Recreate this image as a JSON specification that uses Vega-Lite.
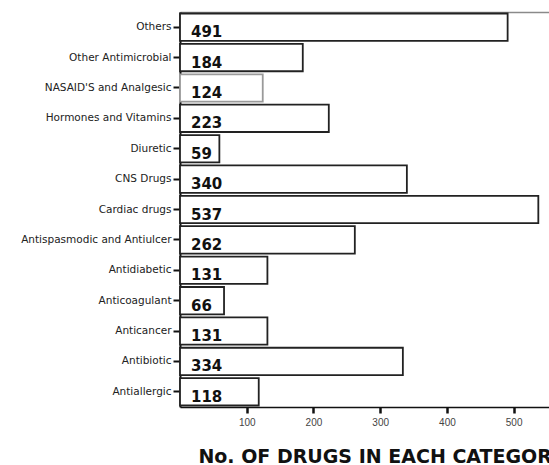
{
  "$schema": "https://vega.github.io/schema/vega-lite/v6.json",
  "width": 369,
  "height": 395,
  "autosize": {"type": "none"},
  "padding": {"left": 180, "top": 12, "right": 0, "bottom": 58},
  "background": "white",
  "data": {
    "values": [
      {"category": "Others", "count": 491},
      {"category": "Other Antimicrobial", "count": 184},
      {"category": "NASAID'S and Analgesic", "count": 124},
      {"category": "Hormones and Vitamins", "count": 223},
      {"category": "Diuretic", "count": 59},
      {"category": "CNS Drugs", "count": 340},
      {"category": "Cardiac drugs", "count": 537},
      {"category": "Antispasmodic and Antiulcer", "count": 262},
      {"category": "Antidiabetic", "count": 131},
      {"category": "Anticoagulant", "count": 66},
      {"category": "Anticancer", "count": 131},
      {"category": "Antibiotic", "count": 334},
      {"category": "Antiallergic", "count": 118}
    ]
  },
  "encoding": {
    "y": {
      "field": "category",
      "type": "nominal",
      "sort": null,
      "scale": {"paddingInner": 0.1, "paddingOuter": 0.05},
      "axis": {
        "title": null,
        "labelFont": "DejaVu Sans",
        "labelFontSize": 10.5,
        "labelColor": "#222",
        "labelLimit": 200,
        "labelPadding": 2,
        "tickSize": 7,
        "tickWidth": 2,
        "tickColor": "#111",
        "domainColor": "#111",
        "domainWidth": 2,
        "grid": false
      }
    }
  },
  "layer": [
    {
      "mark": {"type": "bar", "fill": "white", "strokeWidth": 1.8},
      "encoding": {
        "x": {
          "field": "count",
          "type": "quantitative",
          "scale": {"domain": [0, 553], "nice": false},
          "axis": {
            "orient": "bottom",
            "values": [100, 200, 300, 400, 500],
            "grid": false,
            "labelFont": "Liberation Sans",
            "labelFontSize": 10,
            "labelColor": "#444",
            "labelPadding": 4,
            "tickSize": 6,
            "tickWidth": 2.5,
            "tickColor": "#111",
            "domainColor": "#111",
            "domainWidth": 1.5,
            "title": "No. OF DRUGS IN EACH CATEGORY",
            "titleFont": "DejaVu Sans",
            "titleFontWeight": "bold",
            "titleFontSize": 19,
            "titleColor": "#111",
            "titleAlign": "center",
            "titleBaseline": "top",
            "titleX": 201,
            "titleY": 40
          }
        },
        "stroke": {
          "condition": {"test": "datum.category === \"NASAID'S and Analgesic\"", "value": "#9a9a9a"},
          "value": "#222"
        }
      }
    },
    {
      "mark": {
        "type": "text",
        "align": "left",
        "baseline": "middle",
        "dx": 11,
        "dy": 5,
        "font": "DejaVu Sans",
        "fontWeight": "bold",
        "fontSize": 15,
        "color": "#111"
      },
      "encoding": {
        "x": {
          "datum": 0,
          "type": "quantitative",
          "axis": {
            "orient": "top",
            "labels": false,
            "ticks": false,
            "grid": false,
            "title": null,
            "domainColor": "#8a8a8a",
            "domainWidth": 1.5
          }
        },
        "text": {"field": "count", "type": "quantitative"}
      }
    }
  ],
  "resolve": {"axis": {"x": "independent"}},
  "config": {"view": {"stroke": null}}
}
